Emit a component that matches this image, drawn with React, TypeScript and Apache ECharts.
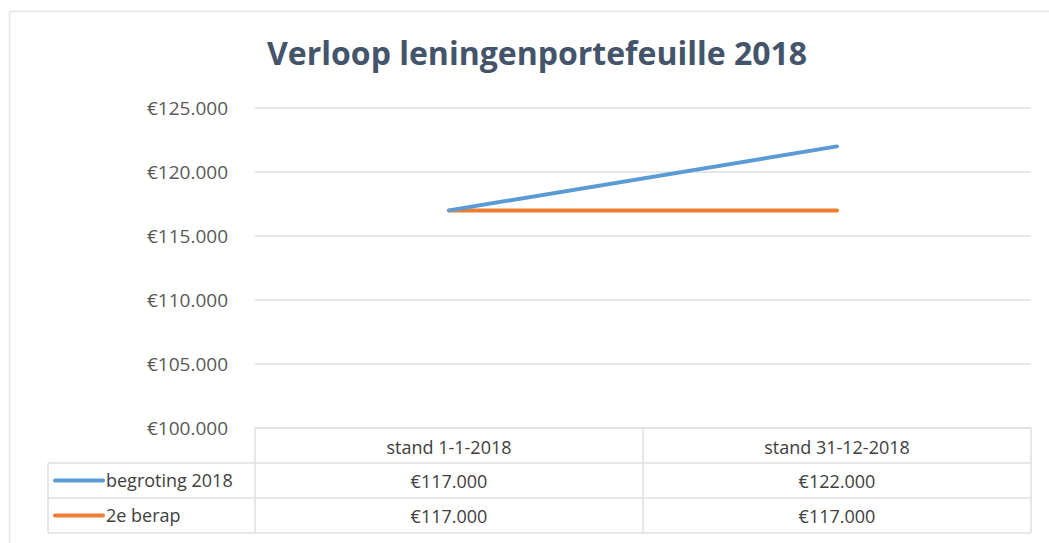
import React, { useEffect, useRef } from "react";
import * as echarts from "echarts";

const categories = ["stand 1-1-2018", "stand 31-12-2018"];
const seriesNames = ["begroting 2018", "2e berap"];
const begroting2018 = [117000, 122000];
const tweedeBerap = [117000, 117000];
const seriesColors = ["#5B9BD5", "#ED7D31"];
const yMin = 100000;
const yMax = 125000;
const yInterval = 5000;

const FONT = "'Open Sans', Lato, sans-serif";
const W = 1049;
const H = 543;

function euro(v: number): string {
  const s = Math.round(v).toString().replace(/\B(?=(\d{3})+(?!\d))/g, ".");
  return "€" + s;
}

export default function App() {
  const ref = useRef<HTMLDivElement>(null);
  useEffect(() => {
    if (!ref.current) return;
    const chart = echarts.init(ref.current, undefined, { renderer: "svg" });
    const gridLeft = 255;
    const gridRight = 1031;
    const gridTop = 108;
    const gridBottom = 428;
    const values = [begroting2018, tweedeBerap];
    chart.setOption({
      animation: false,
      backgroundColor: "#ffffff",
      title: {
        text: "Verloop leningenportefeuille 2018",
        left: 262,
        top: 31,
        textStyle: {
          fontFamily: FONT,
          fontSize: 32,
          fontWeight: "bold",
          color: "#44546A",
        },
      },
      grid: {
        left: gridLeft,
        right: W - gridRight,
        top: gridTop,
        bottom: H - gridBottom,
        containLabel: false,
      },
      xAxis: {
        type: "category",
        data: categories,
        boundaryGap: true,
        axisLine: { show: false },
        axisTick: { show: false },
        axisLabel: { show: false },
      },
      yAxis: {
        type: "value",
        min: yMin,
        max: yMax,
        interval: yInterval,
        axisLine: { show: false },
        axisTick: { show: false },
        splitLine: { lineStyle: { color: "#DCE0E5", width: 1.5 } },
        axisLabel: {
          margin: 27,
          fontFamily: FONT,
          fontSize: 19,
          color: "#595959",
          formatter: (v: number) => euro(v),
        },
      },
      series: seriesNames.map((name, i) => ({
        name,
        type: "line",
        data: values[i],
        symbol: "none",
        lineStyle: { color: seriesColors[i], width: 4, cap: "round" },
        z: 3 - i,
      })),
    });

    const colX = categories.map((c) => chart.convertToPixel({ xAxisIndex: 0 }, c) as number);
    const tableLeft = 48;
    const rowY = [gridBottom, 463, 498, 533];
    const lineColor = "#DCE0E5";
    const g: any[] = [];
    g.push({ type: "line", shape: { x1: 9.5, y1: 11.5, x2: W, y2: 11.5 }, style: { stroke: "#E3E6EA", lineWidth: 1.5 } });
    g.push({ type: "line", shape: { x1: 9.5, y1: 11.5, x2: 9.5, y2: H }, style: { stroke: "#E3E6EA", lineWidth: 1.5 } });
    g.push({ type: "line", shape: { x1: gridLeft, y1: rowY[0], x2: gridRight, y2: rowY[0] }, style: { stroke: lineColor, lineWidth: 1.5 } });
    for (let r = 1; r < rowY.length; r++) {
      g.push({ type: "line", shape: { x1: tableLeft, y1: rowY[r], x2: gridRight, y2: rowY[r] }, style: { stroke: lineColor, lineWidth: 1.5 } });
    }
    g.push({ type: "line", shape: { x1: tableLeft, y1: rowY[1], x2: tableLeft, y2: rowY[3] }, style: { stroke: lineColor, lineWidth: 1.5 } });
    const colW = (gridRight - gridLeft) / categories.length;
    for (let c = 0; c <= categories.length; c++) {
      const x = gridLeft + c * colW;
      g.push({ type: "line", shape: { x1: x, y1: rowY[0], x2: x, y2: rowY[3] }, style: { stroke: lineColor, lineWidth: 1.5 } });
    }
    const textStyle = { fontFamily: FONT, fontSize: 18, fill: "#404040", align: "center", verticalAlign: "middle" };
    categories.forEach((c, i) => {
      g.push({ type: "text", x: colX[i], y: (rowY[0] + rowY[1]) / 2 + 1, style: { ...textStyle, text: c } });
    });
    seriesNames.forEach((name, s) => {
      const cy = (rowY[s + 1] + rowY[s + 2]) / 2;
      g.push({ type: "line", shape: { x1: 55, y1: cy, x2: 103, y2: cy }, style: { stroke: seriesColors[s], lineWidth: 4, lineCap: "round" } });
      g.push({ type: "text", x: 106, y: cy - 1, style: { ...textStyle, align: "left", text: name } });
      values[s].forEach((v, i) => {
        g.push({ type: "text", x: colX[i], y: cy, style: { ...textStyle, text: euro(v) } });
      });
    });
    chart.setOption({ graphic: g });
    return () => chart.dispose();
  }, []);
  return <div ref={ref} style={{ position: "fixed", left: 0, top: 0, width: W, height: H }} />;
}
